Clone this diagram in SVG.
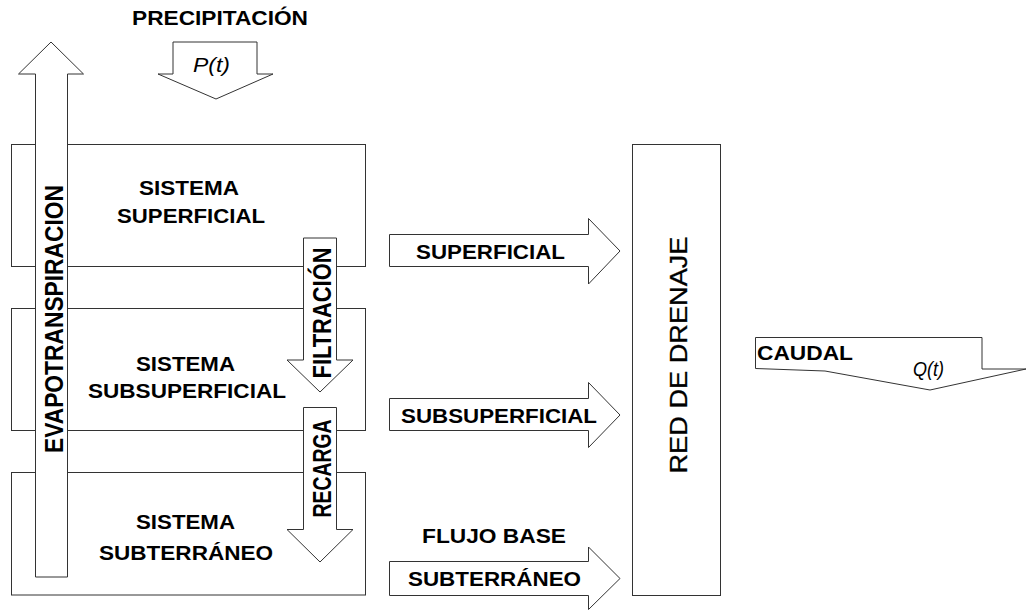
<svg xmlns="http://www.w3.org/2000/svg" width="1027" height="610" viewBox="0 0 1027 610">
  <style>
    .box { fill: #fff; stroke: #333; stroke-width: 1; }
    .flow { fill: #fff; stroke: #333; stroke-width: 1; stroke-linejoin: miter; }
    .lbl { font-family: "Liberation Sans", Arial, sans-serif; font-weight: bold; font-size: 20px; fill: #000; }
    .vlbl { font-family: "Liberation Sans", Arial, sans-serif; font-weight: bold; font-size: 25px; fill: #000; }
    .fn { font-family: "Liberation Sans", Arial, sans-serif; font-style: italic; font-size: 20px; fill: #000; }
  </style>
  <rect width="1027" height="610" fill="#fff"/>

  <!-- reservoirs -->
  <g id="sistema-superficial">
    <rect class="box" x="11.5" y="144.5" width="354" height="122"/>
    <text class="lbl" x="139" y="195" textLength="100" lengthAdjust="spacingAndGlyphs">SISTEMA</text>
    <text class="lbl" x="117" y="222.5" textLength="148" lengthAdjust="spacingAndGlyphs">SUPERFICIAL</text>
  </g>
  <g id="sistema-subsuperficial">
    <rect class="box" x="11.5" y="308.5" width="354" height="122"/>
    <text class="lbl" x="136" y="371" textLength="99" lengthAdjust="spacingAndGlyphs">SISTEMA</text>
    <text class="lbl" x="88" y="398" textLength="198" lengthAdjust="spacingAndGlyphs">SUBSUPERFICIAL</text>
  </g>
  <g id="sistema-subterraneo">
    <rect class="box" x="11.5" y="472.5" width="354" height="122.5"/>
    <text class="lbl" x="136" y="529" textLength="99" lengthAdjust="spacingAndGlyphs">SISTEMA</text>
    <text class="lbl" x="99" y="560" textLength="174" lengthAdjust="spacingAndGlyphs">SUBTERRÁNEO</text>
  </g>
  <g id="red-de-drenaje">
    <rect class="box" x="632.5" y="144.5" width="88" height="451"/>
    <text transform="translate(686.5,473.5) rotate(-90)" font-family="Liberation Sans, Arial, sans-serif" font-size="23" fill="#000" stroke="#000" stroke-width="0.3" textLength="237" lengthAdjust="spacingAndGlyphs">RED DE DRENAJE</text>
  </g>

  <!-- flows -->
  <g id="flows">
    <!-- precipitation input -->
    <text class="lbl" x="132" y="25" textLength="176" lengthAdjust="spacingAndGlyphs">PRECIPITACIÓN</text>
    <polygon class="flow" points="173,42 257,42 257,74 273,74 216,99 158,74 173,74"/>
    <text class="fn" x="193" y="72" textLength="37" lengthAdjust="spacingAndGlyphs">P(t)</text>

    <!-- evapotranspiration output -->
    <polygon class="flow" points="51,42 83.5,74 67.5,74 67.5,577 35.5,577 35.5,74 18.5,74"/>
    <text class="vlbl" font-size="27" transform="translate(62.5,453) rotate(-90)" textLength="268" lengthAdjust="spacingAndGlyphs">EVAPOTRANSPIRACION</text>

    <!-- infiltration and recharge -->
    <polygon class="flow" points="303.5,238 336.5,238 336.5,360 353,360 320,392 287,360 303.5,360"/>
    <text class="vlbl" transform="translate(330.5,378.5) rotate(-90)" textLength="131" lengthAdjust="spacingAndGlyphs">FILTRACIÓN</text>
    <polygon class="flow" points="303.5,407.5 336.5,407.5 336.5,529.5 353,529.5 320,562 287,529.5 303.5,529.5"/>
    <text class="vlbl" transform="translate(330.5,517.5) rotate(-90)" textLength="98" lengthAdjust="spacingAndGlyphs">RECARGA</text>

    <!-- runoff components into the drainage network -->
    <polygon class="flow" points="389.5,234.5 588.5,234.5 588.5,218.5 620,251 588.5,284 588.5,266.5 389.5,266.5"/>
    <text class="lbl" x="416" y="259" textLength="149" lengthAdjust="spacingAndGlyphs">SUPERFICIAL</text>
    <polygon class="flow" points="389.5,398.5 588.5,398.5 588.5,382.5 620,415 588.5,447.5 588.5,430.5 389.5,430.5"/>
    <text class="lbl" x="401" y="423" textLength="196" lengthAdjust="spacingAndGlyphs">SUBSUPERFICIAL</text>
    <text class="lbl" x="422" y="543" textLength="144" lengthAdjust="spacingAndGlyphs">FLUJO BASE</text>
    <polygon class="flow" points="389.5,561.5 588.5,561.5 588.5,547 620,578.5 588.5,609.5 588.5,595.5 389.5,595.5"/>
    <text class="lbl" x="408" y="586" textLength="173" lengthAdjust="spacingAndGlyphs">SUBTERRÁNEO</text>

    <!-- outlet discharge -->
    <polygon class="flow" points="755.5,337.5 982,337.5 982,369 1026,369 930,390 825,371 755.5,368.5"/>
    <text class="lbl" x="757" y="360" textLength="96" lengthAdjust="spacingAndGlyphs">CAUDAL</text>
    <text class="fn" x="913" y="376" textLength="31" lengthAdjust="spacingAndGlyphs">Q(t)</text>
  </g>
</svg>
